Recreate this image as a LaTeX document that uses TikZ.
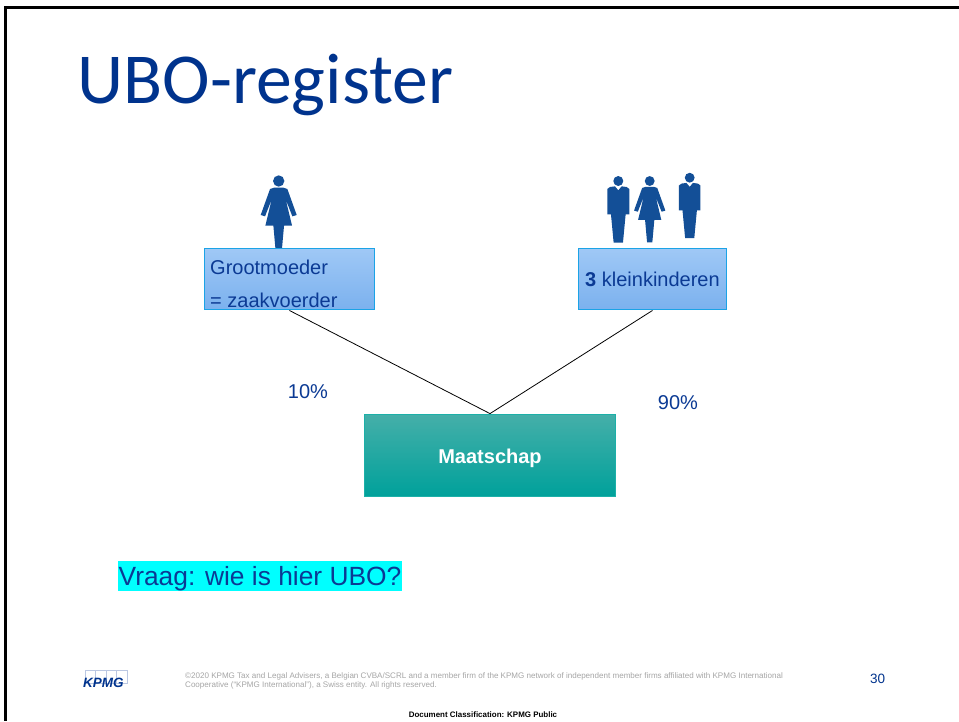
\documentclass[tikz,border=0pt]{standalone}
\usepackage{fontspec}
\setmainfont{Liberation Sans}
\newfontfamily\titlefont{Carlito}
\usetikzlibrary{calc}
\definecolor{kblue}{HTML}{00338D}
\definecolor{ktext}{HTML}{0B3A94}
\definecolor{kfig}{HTML}{134F97}
\definecolor{kedge}{HTML}{1BA3E6}
\definecolor{boxtop}{HTML}{9FC8F6}
\definecolor{boxbot}{HTML}{7BB1EE}
\definecolor{greentop}{HTML}{45AFA9}
\definecolor{greenbot}{HTML}{00A19B}
\definecolor{greenedge}{HTML}{1CB0A8}
\definecolor{footgray}{HTML}{A6A6A6}
\definecolor{kcellc}{HTML}{BCC8E2}
\definecolor{hilite}{HTML}{00FFFF}
\newcommand{\fs}[1]{\fontsize{#1}{#1}\selectfont}
\tikzset{
  x=1pt,y=-1pt,
  bluebox/.style={draw=kedge,line width=1pt,top color=boxtop,bottom color=boxbot,minimum width=170pt,minimum height=61.5pt,inner sep=0pt,text=ktext,font=\fs{20}},
  greenbox/.style={draw=greenedge,line width=.8pt,top color=greentop,bottom color=greenbot,minimum width=251pt,minimum height=82pt,inner sep=0pt,text=white,font=\fs{20}\bfseries},
  label/.style={inner sep=0pt,text=ktext,font=\fs{20}},
  foot/.style={inner sep=0pt,text=footgray,font=\fs{8.05},anchor=base west},
  kcell/.style={draw=kcellc,line width=.7pt,minimum width=10.5pt,minimum height=13pt,inner sep=0pt},
  womanfig/.pic={
    \fill[kfig,x=.3333pt,y=-.3333pt] (0,0) circle[radius=17]
      (-14,20) -- (14,20) -- (26,24) -- (54,102) -- (41,106) -- (21,55) -- (40,134) -- (16,134) -- (9,212) -- (-9,212) -- (-16,134) -- (-40,134) -- (-21,55) -- (-41,106) -- (-54,102) -- (-26,24) -- cycle;
  },
  manfig/.pic={
    \fill[kfig,x=.3333pt,y=-.3333pt] (0,0) circle[radius=15]
      (-33,24) -- (-25,18) -- (-10,16) -- (0,28) -- (10,16) -- (25,18) -- (33,24) -- (33,100) -- (22,100) -- (14,185) -- (-14,185) -- (-22,100) -- (-33,100) -- cycle;
  },
}
\begin{document}
\begin{tikzpicture}
\useasboundingbox (0,0) rectangle (959,721);
\fill[white] (0,0) rectangle (959,721);
\fill[black] (4,5.7) rectangle (959,8.7);
\fill[black] (4,5.7) rectangle (6.8,721);
\node[inner sep=0pt,anchor=base west,text=kblue,font=\titlefont\fs{71.7}] (title) at (77.5,103.5) {UBO-register};
% figures
\pic at (278.7,181) {womanfig};
\pic at (618.3,181) {manfig};
\pic[scale=.87] at (649.7,181) {womanfig};
\pic[scale=.98] at (689.7,177.7) {manfig};
% boxes
\node[bluebox] (oma) at (289.4,279.2) {};
\node[bluebox,minimum width=148.5pt] (klein) at (652.5,279.2) {\raisebox{-7pt}[0pt][0pt]{\textbf{3} kleinkinderen}};
\node[greenbox] (maat) at (490,455) {\raisebox{-8pt}[0pt][0pt]{Maatschap}};
\node[label,anchor=base west] (oma1) at (210,274.5) {Grootmoeder};
\node[label,anchor=base west] (oma2) at (210,307) {= zaakvoerder};
\draw[black,line width=.8pt] (oma.south) -- (maat.north);
\draw[black,line width=.8pt] (klein.south) -- (maat.north);
\node[label] (pct1) at (308,392) {10\%};
\node[label] (pct2) at (678,403) {90\%};
\node[anchor=base west,fill=hilite,inner xsep=.5pt,inner ysep=0pt,text height=24pt,text depth=6pt,text=ktext,font=\fs{26.35}] (vraag) at (118,585) {Vraag: wie is hier UBO?};
% logo
\node[kcell] (c1) at (90.25,676.5) {};
\node[kcell] (c2) at (100.75,676.5) {};
\node[kcell] (c3) at (111.25,676.5) {};
\node[kcell] (c4) at (121.75,676.5) {};
\node[inner sep=0pt,anchor=base west,text=kblue,font=\fs{13.5}\bfseries\itshape] (kpmg) at (83,687.5) {KPMG};
% footer
\node[foot] (f1) at (185,678) {©2020 KPMG Tax and Legal Advisers, a Belgian CVBA/SCRL and a member firm of the KPMG network of independent member firms affiliated with KPMG International};
\node[foot] (f2) at (185,687) {Cooperative (“KPMG International”), a Swiss entity. All rights reserved.};
\node[inner sep=0pt,text=kblue,font=\fs{13.5},anchor=base] (num) at (877.5,683) {30};
\node[inner sep=0pt,text=black,font=\fs{7.95}\bfseries,anchor=base] (cls) at (483,717) {Document Classification: KPMG Public};
\end{tikzpicture}
\end{document}
